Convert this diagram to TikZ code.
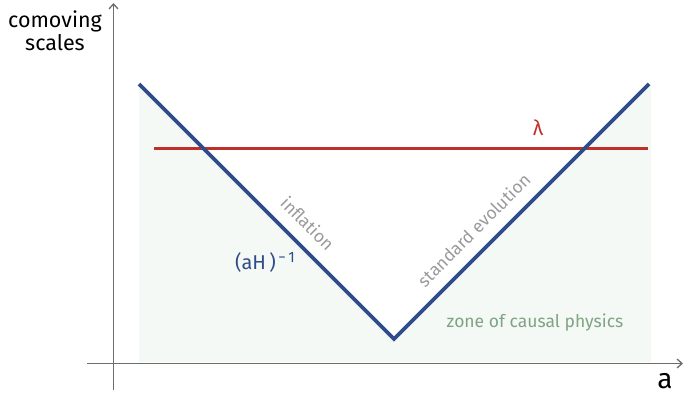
\documentclass[tikz,border=0pt]{standalone}
\usepackage{fontspec}
\setmainfont{Fira Sans}
\usetikzlibrary{arrows.meta,calc,positioning}
\definecolor{ink}{HTML}{2F4C8A}
\definecolor{signalred}{HTML}{C0302A}
\definecolor{muted}{HTML}{6E6E6E}
\definecolor{causalfill}{HTML}{F5F9F6}
\definecolor{textgray}{HTML}{9A9A9A}
\definecolor{zone}{HTML}{7FA383}
\tikzset{>={Straight Barb[length=5pt,width=9pt]},
  every node/.style={font=\fontsize{17.5}{20}\selectfont,inner sep=1pt},
  axis/.style={->,draw=muted,line width=1.3pt},
  horizon/.style={draw=ink,line width=3.6pt,line join=miter},
  wavelength/.style={draw=signalred,line width=3pt},
  slopetext/.style={text=textgray,sloped}}
\begin{document}
\begin{tikzpicture}[x=1pt,y=-1pt]
\useasboundingbox (0,0) rectangle (684,399);
\coordinate (vl) at (139,84);\coordinate (vb) at (394,339);\coordinate (vr) at (649,84);
\fill[causalfill] (vl)--(vb)--(vr)--(651,84)--(651,362)--(139,362)--cycle;
\draw[axis] (113.5,390)--(113.5,3);
\draw[axis] (87,363.5)--(683,363.5);
\draw[wavelength] (154,148)--(648,148);
\draw[horizon] (vl)--node[slopetext,pos=.604,above=11pt] (infl) {inflation}(vb)--node[slopetext,pos=.37,above=11pt] (std) {standard evolution}(vr);
\node[text=signalred,font=\fontsize{21}{22}\selectfont] (lambda) at (538,128) {λ};
\node[text=ink,font=\fontsize{20}{22}\selectfont] (hubble) at (265,262) {(aH\,)\raisebox{7pt}{\fontsize{15}{15}\selectfont\,−\,1}};
\node[text=zone] (zonelabel) at (535,323) {zone of causal physics};
\node[align=center,font=\fontsize{21.5}{23}\selectfont] (ylabel) at (55,31) {comoving\\scales};
\node[font=\fontsize{28}{30}\selectfont] (xlabel) at (665,381) {a};
\end{tikzpicture}
\end{document}
